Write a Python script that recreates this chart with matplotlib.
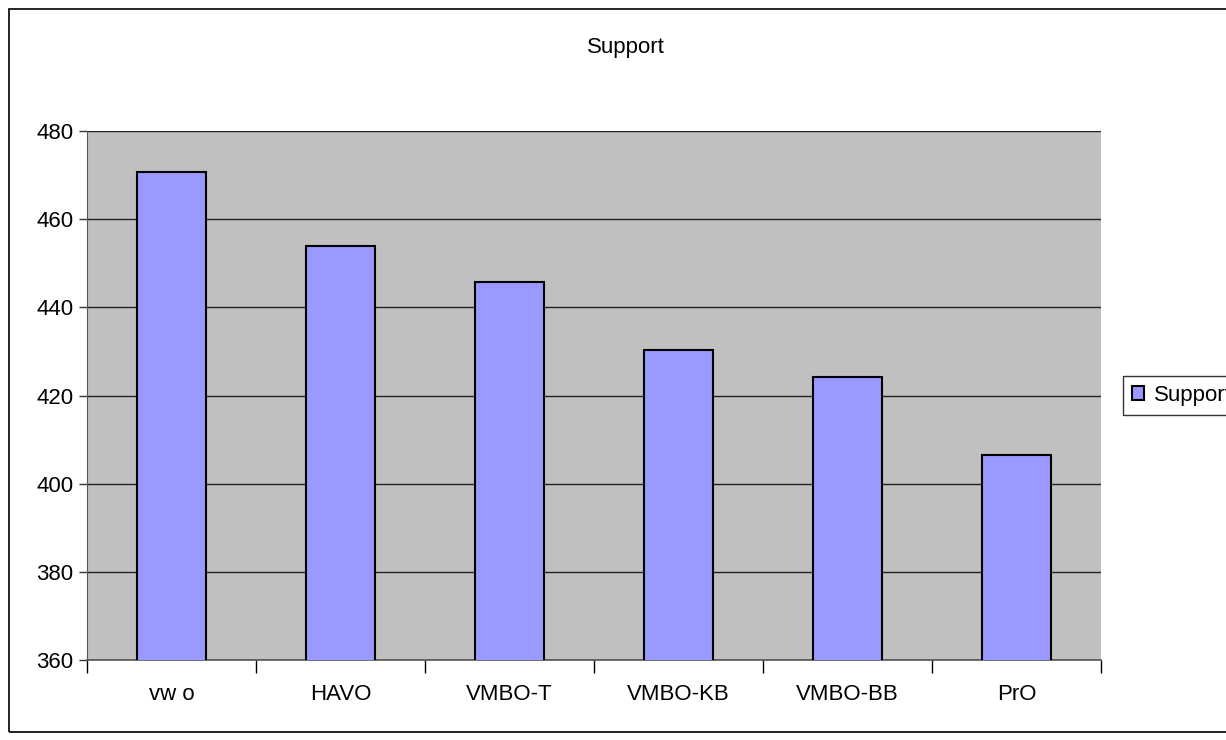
import matplotlib.pyplot as plt
from matplotlib.patches import Rectangle

categories = ['vw o', 'HAVO', 'VMBO-T', 'VMBO-KB', 'VMBO-BB', 'PrO']
support = [470.6, 453.9, 445.7, 430.4, 424.3, 406.4]
y_ticks = [360, 380, 400, 420, 440, 460, 480]

plt.rcParams['font.family'] = ['Liberation Sans', 'DejaVu Sans']
FS = 16

fig = plt.figure(figsize=(12.26, 7.40), dpi=100)
ax = fig.add_axes([0.071, 0.108, 0.827, 0.715])

# outer chart border (right edge falls outside the image like the original)
fig.patches.append(Rectangle((9 / 1226, 8 / 740), 1.2, 723 / 740, transform=fig.transFigure,
                             fill=False, edgecolor='black', linewidth=1.2, zorder=0))

x = list(range(len(categories)))
ax.set_facecolor('#c0c0c0')
ax.bar(x, support, width=0.41, bottom=0, color='#9999ff', edgecolor='black',
       linewidth=1.5, label='Support', zorder=3)

ax.set_ylim(360, 480)
ax.set_xlim(-0.5, len(categories) - 0.5)
ax.set_yticks(y_ticks)
ax.yaxis.grid(True, color='#222222', linewidth=1.0, zorder=1)
ax.set_axisbelow(True)

ax.set_xticks(x)
ax.set_xticklabels(categories, fontsize=FS)
ax.tick_params(axis='x', length=0, pad=17)
ax.set_xticks([i - 0.5 for i in range(len(categories) + 1)], minor=True)
ax.tick_params(axis='x', which='minor', length=9, width=1, color='black')
ax.tick_params(axis='y', labelsize=FS, length=6, width=1, color='#333333', pad=4)

for side in ['top', 'right']:
    ax.spines[side].set_visible(False)
ax.spines['left'].set_color('#555555')
ax.spines['bottom'].set_color('#555555')
ax.spines['bottom'].set_linewidth(1.2)

# title is centred on the whole chart area, not the plot area
fig.text(626 / 1226, 693 / 740, 'Support', ha='center', va='center', fontsize=FS)

leg = ax.legend(loc='center left', bbox_to_anchor=(1.0217, 0.5), borderaxespad=0,
                fontsize=FS, frameon=True, fancybox=False, edgecolor='black',
                handlelength=0.55, handleheight=0.55, handletextpad=0.45, borderpad=0.4)
leg.get_frame().set_linewidth(1.0)

fig.savefig('out.png', dpi=100, facecolor='white')
